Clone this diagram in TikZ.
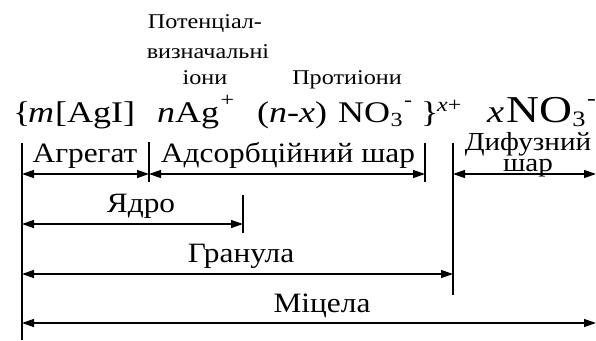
\documentclass[tikz,border=0pt]{standalone}
\usepackage{fontspec}
\setmainfont{Liberation Serif}
\newfontfamily\fform[FakeStretch=1.2]{Liberation Serif}
\newfontfamily\flab[FakeStretch=1.12]{Liberation Serif}
\newfontfamily\fsml[FakeStretch=1.15]{Liberation Serif}
\usetikzlibrary{arrows.meta}
\begin{document}
\begin{tikzpicture}[x=1pt,y=-1pt,
  lbl/.style={inner sep=0pt, anchor=base, font=\flab\fontsize{28}{30}\selectfont},
  small/.style={inner sep=0pt, anchor=base, font=\fsml\fontsize{21}{23}\selectfont},
  fm/.style={inner sep=0pt, anchor=base west, font=\fform\fontsize{30}{32}\selectfont},
  fs/.style={inner sep=0pt, anchor=base west, font=\fform\fontsize{20}{22}\selectfont},
  fmb/.style={inner sep=0pt, anchor=base west, font=\fform\fontsize{38}{41}\selectfont},
  fsb/.style={inner sep=0pt, anchor=base west, font=\fform\fontsize{22}{24}\selectfont},
  tick/.style={line width=1.3pt},
  dim/.style={line width=1.3pt, {Triangle[length=12pt,width=8pt]}-{Triangle[length=12pt,width=8pt]}}]
\useasboundingbox (0,0) rectangle (596,340);
% top labels
\node[small] (p1) at (205,28) {Потенціал-};
\node[small] (p2) at (208,58) {визначальні};
\node[small] (p3) at (205,84) {іони};
\node[small] (pr) at (347,84) {Протиіони};
% formula
\node[fm] (f1) at (13,122) {\{};
\node[fm] (f2) at (28,122) {\textit{m}};
\node[fm] (f3) at (55,122) {[AgI]};
\node[fm] (f4) at (157,122) {\textit{n}Ag};
\node[fs, xshift=1pt, yshift=16pt] (f5) at (f4.base east) {+};
\node[fm] (f6) at (257,122) {(\textit{n}-\textit{x})};
\node[fm] (f7) at (338,122) {NO};
\node[fs, yshift=-4pt] (f8) at (f7.base east) {3};
\node[fs, xshift=1pt, yshift=20pt] (f9) at (f8.base east) {-};
\node[fm] (f10) at (421,122) {\}};
\node[fs] (f11) at (437,111) {\textit{x}+};
\node[fm, font=\fform\fontsize{32}{34}\selectfont] (f12) at (487,122) {\textit{x}};
\node[fmb] (f13) at (506,122) {NO};
\node[fsb, yshift=-4pt] (f14) at (f13.base east) {3};
\node[fsb, xshift=1pt, yshift=21pt] (f15) at (f14.base east) {-};
% vertical ticks
\coordinate (l0) at (22,143); \coordinate (l1) at (22,340);
\coordinate (a0) at (149,142); \coordinate (a1) at (149,182);
\coordinate (y0) at (243,195); \coordinate (y1) at (243,233);
\coordinate (s0) at (425,143); \coordinate (s1) at (425,182);
\coordinate (g0) at (453,143); \coordinate (g1) at (453,295);
\draw[tick] (l0) -- (l1);
\draw[tick] (a0) -- (a1);
\draw[tick] (y0) -- (y1);
\draw[tick] (s0) -- (s1);
\draw[tick] (g0) -- (g1);
% dimension arrows
\coordinate (r1l) at (22,174); \coordinate (r1a) at (149,174); \coordinate (r1s) at (425,174);
\coordinate (r1g) at (453,174); \coordinate (r1e) at (596,174);
\draw[dim] (r1l) -- (r1a);
\draw[dim] (r1a) -- (r1s);
\draw[dim] (r1g) -- (r1e);
\coordinate (r2l) at (22,224); \coordinate (r2e) at (243,224);
\draw[dim] (r2l) -- (r2e);
\coordinate (r3l) at (22,274); \coordinate (r3e) at (453,274);
\draw[dim] (r3l) -- (r3e);
\coordinate (r4l) at (22,323); \coordinate (r4e) at (596,323);
\draw[dim] (r4l) -- (r4e);
% labels
\node[lbl] (ag) at (85,162) {Агрегат};
\node[lbl] (ad) at (288,162) {Адсорбційний шар};
\node[lbl, font=\flab\fontsize{26}{28}\selectfont] (df1) at (528,150) {Дифузний};
\node[lbl, font=\flab\fontsize{26}{28}\selectfont] (df2) at (528,171) {шар};
\node[lbl] (ya) at (141,212) {Ядро};
\node[lbl] (gr) at (241,262) {Гранула};
\node[lbl] (mi) at (322,312) {Міцела};
\end{tikzpicture}
\end{document}
